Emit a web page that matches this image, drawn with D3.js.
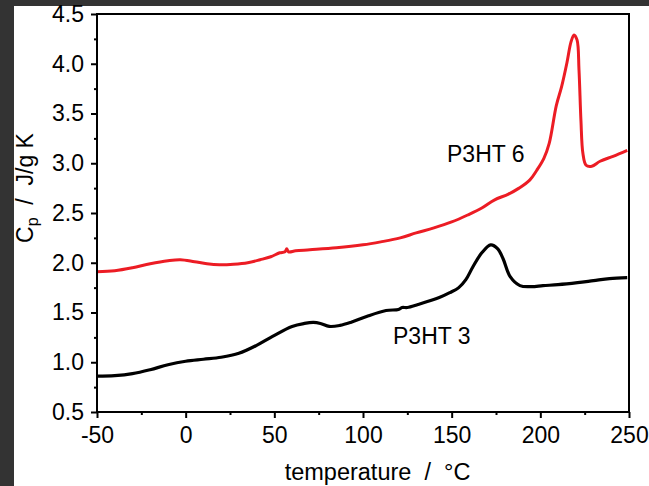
<!DOCTYPE html>
<html><head><meta charset="utf-8">
<script src="https://cdn.jsdelivr.net/npm/d3@7"></script>
<style>
html,body{margin:0;padding:0;background:#333333;}
svg{display:block;}
</style></head>
<body>
<svg id="c" width="649" height="486"></svg>
<script>
// Data
const p3ht6X = [-50,-40,-30,-20,-10,-3,5,12,19,27,35,42,48,53,56,57,58,62,70,85,100,110,121,130,140,150,159,167,174,182,188,194,198,202,205,209,212,215,217.3,219,220.7,221.8,222.9,224,225.8,229,233.7,241,249];
const p3ht6Y = [1.91,1.92,1.95,1.99,2.02,2.03,2.01,1.99,1.98,1.985,2.00,2.03,2.06,2.10,2.11,2.14,2.11,2.12,2.13,2.15,2.18,2.21,2.25,2.30,2.35,2.41,2.48,2.55,2.63,2.69,2.75,2.83,2.93,3.05,3.20,3.58,3.77,4.01,4.22,4.29,4.24,3.94,3.43,3.10,2.98,2.97,3.02,3.07,3.13];
const p3ht3X = [-50,-40,-30,-20,-10,0,10,20,30,40,49,60,67,72,76,81,87,93,102,113,120,122,125,131,143,149,154,158,162,167,172,176,179,183,188.5,195,201.5,210,221,230,239,249];
const p3ht3Y = [0.86,0.865,0.885,0.925,0.975,1.01,1.03,1.05,1.09,1.17,1.26,1.36,1.39,1.40,1.39,1.36,1.37,1.40,1.46,1.52,1.53,1.55,1.55,1.58,1.65,1.70,1.75,1.83,1.96,2.10,2.18,2.14,2.04,1.86,1.77,1.76,1.77,1.78,1.80,1.82,1.84,1.85];
const xMajor = [-50,0,50,100,150,200,250];
const xMinor = [-25,25,75,125,175,225];
const yMajor = [0.5,1.0,1.5,2.0,2.5,3.0,3.5,4.0,4.5];
const yMinor = [0.75,1.25,1.75,2.25,2.75,3.25,3.75,4.25];
const seriesNames = ["P3HT 6","P3HT 3"];

const svg = d3.select("#c");
svg.append("rect").attr("x",14).attr("y",6).attr("width",635).attr("height",480).attr("fill","#fff");

const L=97,R=629,T=14,B=412;
const x = d3.scaleLinear().domain([-50,250]).range([L,R]);
const y = d3.scaleLinear().domain([0.5,4.5]).range([B,T]);
const font = "'Liberation Sans', Arial, sans-serif";

// curves
const line = d3.line().x(d=>x(d[0])).y(d=>y(d[1])).curve(d3.curveCatmullRom.alpha(0.5));
svg.append("path").datum(p3ht6X.map((v,i)=>[v,p3ht6Y[i]]))
  .attr("d",line).attr("fill","none").attr("stroke","#ec1c24").attr("stroke-width",3).attr("stroke-linejoin","round");
svg.append("path").datum(p3ht3X.map((v,i)=>[v,p3ht3Y[i]]))
  .attr("d",line).attr("fill","none").attr("stroke","#000").attr("stroke-width",3.2).attr("stroke-linejoin","round");

// frame
svg.append("rect").attr("x",L).attr("y",T).attr("width",R-L).attr("height",B-T)
  .attr("fill","none").attr("stroke","#000").attr("stroke-width",2);

// x axis
const gx = svg.append("g").attr("transform",`translate(0,${B})`);
gx.call(d3.axisBottom(x).tickValues(xMajor).tickSize(6).tickFormat(d=>d<0?"-"+Math.abs(d):String(d)));
const gxm = svg.append("g").attr("transform",`translate(0,${B})`);
gxm.call(d3.axisBottom(x).tickValues(xMinor).tickSize(3).tickFormat(()=>""));
[gx,gxm].forEach(g=>{g.selectAll(".domain").remove();g.selectAll("line").attr("stroke","#000").attr("stroke-width",2);});
gx.selectAll("text").attr("font-family",font).attr("font-size",23).attr("fill","#000").attr("y",15).attr("dy","0.71em");

// y axis
const gy = svg.append("g").attr("transform",`translate(${L},0)`);
gy.call(d3.axisLeft(y).tickValues(yMajor).tickSize(6).tickFormat(d3.format(".1f")));
const gym = svg.append("g").attr("transform",`translate(${L},0)`);
gym.call(d3.axisLeft(y).tickValues(yMinor).tickSize(3).tickFormat(()=>""));
[gy,gym].forEach(g=>{g.selectAll(".domain").remove();g.selectAll("line").attr("stroke","#000").attr("stroke-width",2);});
gy.selectAll("text").attr("font-family",font).attr("font-size",23).attr("fill","#000").attr("x",-13);

// axis titles
svg.append("text").attr("x",(283+472)/2).attr("y",480).attr("text-anchor","middle")
  .attr("font-family",font).attr("font-size",23.5).attr("fill","#000").style("white-space","pre")
  .text("temperature  /  °C");
const yt = svg.append("text").attr("transform","translate(33,188) rotate(-90)").attr("text-anchor","middle")
  .attr("font-family",font).attr("font-size",23).attr("fill","#000").style("white-space","pre");
yt.append("tspan").text("C");
yt.append("tspan").attr("font-size",16).attr("dy",5).text("p");
yt.append("tspan").attr("dy",-5).text("  /  J/g K");

// series labels
svg.append("text").attr("x",447).attr("y",162).attr("font-family",font).attr("font-size",23).attr("fill","#000").text(seriesNames[0]);
svg.append("text").attr("x",393).attr("y",344).attr("font-family",font).attr("font-size",23).attr("fill","#000").text(seriesNames[1]);
</script>
</body></html>
